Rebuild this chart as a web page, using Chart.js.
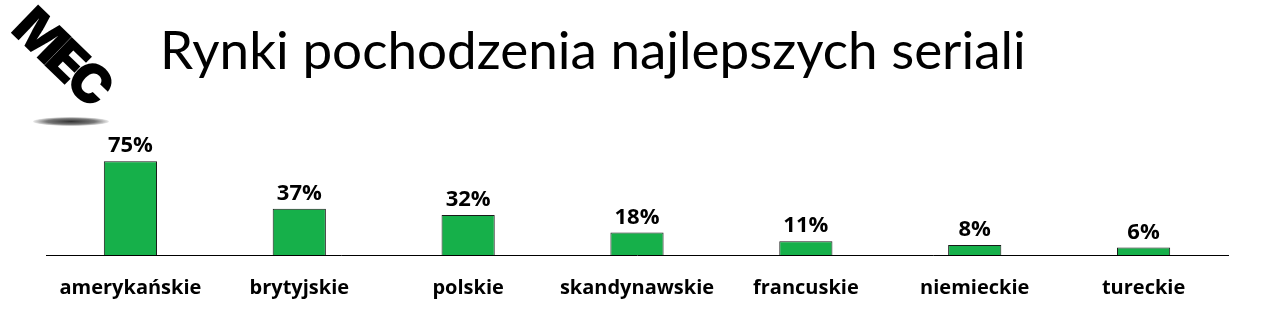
<!DOCTYPE html>
<html lang="pl">
<head>
<meta charset="utf-8">
<title>Rynki pochodzenia najlepszych seriali</title>
<script src="https://cdn.jsdelivr.net/npm/chart.js@4.4.0/dist/chart.umd.min.js"></script>
<style>
  html, body { margin: 0; padding: 0; background: #fff; }
  .wrap { position: relative; width: 1278px; height: 317px; overflow: hidden; }
  #chart { position: absolute; left: 0; top: 0; }
  .title {
    position: absolute; left: 160px; top: 19px; margin: 0;
    font-family: Lato, sans-serif; font-weight: 400; font-size: 53px;
    line-height: 60px; color: #000; white-space: nowrap;
  }
  .logo {
    position: absolute; left: 41px; top: -2px;
    font-family: Inter, "DejaVu Sans", sans-serif; font-weight: 900; font-size: 54px;
    line-height: 54px; letter-spacing: -5px;
    transform: rotate(44deg); transform-origin: 0 0; color: #000;
  }
  .shadow {
    position: absolute; left: 33px; top: 117px; width: 76px; height: 9px;
    border-radius: 50%;
    background: radial-gradient(ellipse at center, #333 0%, #777 45%, rgba(255,255,255,0) 75%);
  }
</style>
</head>
<body>
<div class="wrap">
  <canvas id="chart" width="1278" height="317"></canvas>
  <div class="logo">MEC</div>
  <div class="shadow"></div>
  <h1 class="title">Rynki pochodzenia najlepszych seriali</h1>
</div>
<script>
const categories = ['amerykańskie', 'brytyjskie', 'polskie', 'skandynawskie', 'francuskie', 'niemieckie', 'tureckie'];
const values = [75, 37, 32, 18, 11, 8, 6];
const valueLabels = ['75%', '37%', '32%', '18%', '11%', '8%', '6%'];

// podpisy nad słupkami
const barLabels = {
  id: 'barLabels',
  afterDatasetsDraw(chart) {
    const ctx = chart.ctx;
    const meta = chart.getDatasetMeta(0);
    ctx.save();
    ctx.font = 'bold 22px "Open Sans", sans-serif';
    ctx.fillStyle = '#000';
    ctx.textAlign = 'center';
    ctx.textBaseline = 'alphabetic';
    meta.data.forEach((bar, i) => {
      ctx.fillText(valueLabels[i], bar.x, bar.y - 9);
    });
    ctx.restore();
  }
};

const ctx = document.getElementById('chart').getContext('2d');
new Chart(ctx, {
  type: 'bar',
  data: {
    labels: categories,
    datasets: [{
      data: values,
      backgroundColor: '#16b04a',
      borderColor: '#1a1a1a',
      borderWidth: 1,
      barPercentage: 0.63,
      categoryPercentage: 0.5
    }]
  },
  options: {
    responsive: false,
    animation: false,
    layout: { padding: { left: 46, right: 50, top: 130, bottom: 0 } },
    plugins: {
      legend: { display: false },
      tooltip: { enabled: false }
    },
    scales: {
      x: {
        afterFit(scale) { scale.height = 62; },
        grid: { display: false, drawTicks: false },
        border: { display: true, color: '#000', width: 1 },
        ticks: {
          padding: 21,
          color: '#000',
          font: { family: '"Open Sans", sans-serif', size: 20, weight: 'bold' },
          maxRotation: 0,
          autoSkip: false
        }
      },
      y: {
        display: false,
        min: 0,
        max: 100
      }
    }
  },
  plugins: [barLabels]
});
</script>
</body>
</html>
